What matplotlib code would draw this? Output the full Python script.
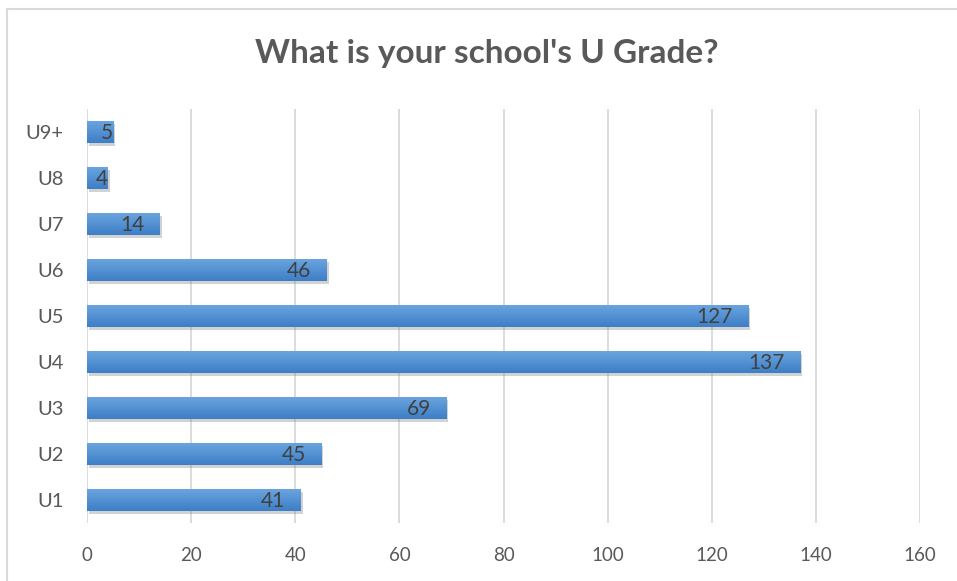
import numpy as np
import matplotlib
matplotlib.use("Agg")
from matplotlib import pyplot as plt
from matplotlib import patheffects as pe
from matplotlib.lines import Line2D

# data
grades = ["U1", "U2", "U3", "U4", "U5", "U6", "U7", "U8", "U9+"]
counts = [41, 45, 69, 137, 127, 46, 14, 4, 5]
xticks = [0, 20, 40, 60, 80, 100, 120, 140, 160]

plt.rcParams["font.family"] = ["Lato", "DejaVu Sans"]

fig = plt.figure(figsize=(9.57, 5.81), dpi=100)
ax = fig.add_axes([87 / 957, 1 - 523 / 581, 833 / 957, 414 / 581])

y = np.arange(len(grades))
bars = ax.barh(y, counts, height=0.48, color="#5b9bd5", zorder=3,
               path_effects=[pe.SimplePatchShadow(offset=(1.5, -2), shadow_rgbFace="#7f7f7f", alpha=0.35),
                             pe.Normal()])

# vertical gradient on each bar, lighter at top
grad = np.linspace(0, 1, 64).reshape(-1, 1)
cmap = matplotlib.colors.LinearSegmentedColormap.from_list("g", ["#3d7ec6", "#6ca6e0"])
for b in bars:
    x0, y0, w, h = b.get_x(), b.get_y(), b.get_width(), b.get_height()
    im = ax.imshow(grad, cmap=cmap, aspect="auto", origin="lower",
                   extent=(x0, x0 + w, y0, y0 + h), zorder=4)
    im.set_clip_path(b)

for b, v in zip(bars, counts):
    off = -11 if v >= 10 else 0
    ax.annotate(str(v), (b.get_width(), b.get_y() + b.get_height() / 2),
                xytext=(off, -1), textcoords="offset points",
                ha="right", va="center", fontsize=15, color="#404040", zorder=5)

ax.set_xlim(0, 160)
ax.set_ylim(-0.5, len(grades) - 0.5)
ax.set_xticks(xticks)
ax.set_yticks(y, grades)
ax.xaxis.grid(True, color="#d9d9d9", linewidth=1.3, zorder=0)
ax.tick_params(axis="both", length=0, labelcolor="#595959")
ax.tick_params(axis="x", pad=17, labelsize=13.5)
ax.tick_params(axis="y", pad=17, labelsize=14.5)
for s in ax.spines.values():
    s.set_visible(False)

fig.text(487 / 957, 1 - 53 / 581, "What is your school's U Grade?", ha="center", va="center",
         fontsize=24, fontweight="bold", color="#595959")

# chart border (top and left edges visible)
fig.add_artist(Line2D([6.5 / 957, 6.5 / 957], [0, 1 - 8.5 / 581], color="#d9d9d9", lw=1.5))
fig.add_artist(Line2D([6.5 / 957, 1], [1 - 8.5 / 581, 1 - 8.5 / 581], color="#d9d9d9", lw=1.5))

fig.savefig("out.png", dpi=100)
